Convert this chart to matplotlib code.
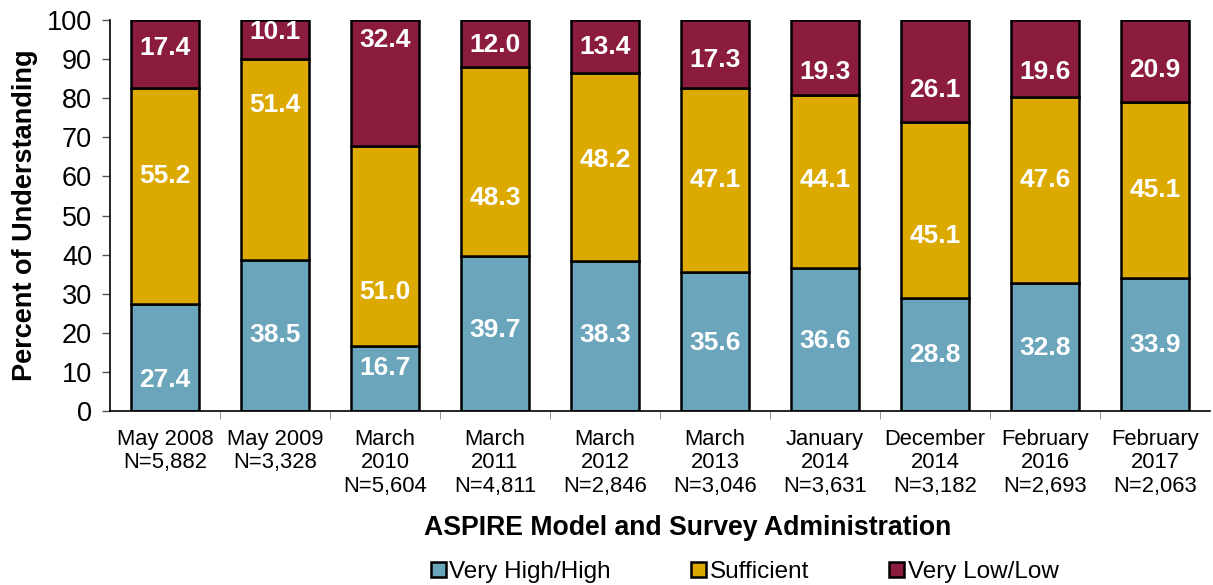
import matplotlib.pyplot as plt
import numpy as np

plt.rcParams['font.family'] = ['Liberation Sans', 'DejaVu Sans']

surveys = ['May 2008\nN=5,882', 'May 2009\nN=3,328', 'March\n2010\nN=5,604',
           'March\n2011\nN=4,811', 'March\n2012\nN=2,846', 'March\n2013\nN=3,046',
           'January\n2014\nN=3,631', 'December\n2014\nN=3,182', 'February\n2016\nN=2,693',
           'February\n2017\nN=2,063']
high = [27.4, 38.5, 16.7, 39.7, 38.3, 35.6, 36.6, 28.8, 32.8, 33.9]
sufficient = [55.2, 51.4, 51.0, 48.3, 48.2, 47.1, 44.1, 45.1, 47.6, 45.1]
low = [17.4, 10.1, 32.4, 12.0, 13.4, 17.3, 19.3, 26.1, 19.6, 20.9]

# where each value label sits inside its segment
high_label_y = [7.9, 19.4, 11.0, 20.7, 19.4, 17.4, 17.9, 14.3, 16.1, 16.9]
suff_label_y = [60.1, 78.3, 30.4, 54.5, 64.2, 59.1, 59.1, 44.8, 59.1, 56.5]
low_label_y = [92.8, 96.9, 94.9, 93.6, 93.1, 89.8, 86.7, 82.1, 86.7, 87.2]

colors = ['#6aa5bb', '#dca900', '#8c1c3e']
names = ['Very High/High', 'Sufficient', 'Very Low/Low']

fig = plt.figure(figsize=(12.13, 5.85), dpi=100)
ax = fig.add_axes([0.0907, 0.2974, 0.9068, 0.6684])

x = np.arange(len(surveys))
bottom = np.zeros(len(surveys))
for vals, col, name, ly in zip([high, sufficient, low], colors, names,
                               [high_label_y, suff_label_y, low_label_y]):
    ax.bar(x, vals, 0.62, bottom=bottom, color=col, edgecolor='black',
           linewidth=1.8, label=name, zorder=2)
    for xi, v, yy in zip(x, vals, ly):
        ax.text(xi, yy, f'{v:.1f}', ha='center', va='center', color='white',
                fontsize=19, fontweight='bold', zorder=3)
    bottom += np.array(vals)

ax.set_xlim(-0.5, len(surveys) - 0.5)
ax.set_ylim(0, 100)
ax.set_yticks(range(0, 101, 10))
ax.tick_params(axis='y', labelsize=19.5, length=6, width=1, color='#555555', pad=7)
ax.set_xticks(x)
ax.set_xticklabels(surveys, fontsize=15.8, linespacing=1.15)
ax.tick_params(axis='x', which='major', length=0, pad=13)
ax.set_xticks(np.arange(0.5, len(surveys) - 0.5, 1), minor=True)
ax.tick_params(axis='x', which='minor', length=6, color='#888888')

for s in ['top', 'right']:
    ax.spines[s].set_visible(False)
ax.spines['left'].set_linewidth(1.2)
ax.spines['bottom'].set_linewidth(1.2)

ax.set_ylabel('Percent of Understanding', fontsize=19.5, fontweight='bold', labelpad=6)
fig.text(0.567, 0.0975, 'ASPIRE Model and Survey Administration', ha='center',
         va='center', fontsize=19.2, fontweight='bold')

handles, labels = ax.get_legend_handles_labels()
fig.legend(handles, labels, loc='center', bbox_to_anchor=(0.614, 0.022), ncol=3,
           frameon=False, fontsize=17.5, handlelength=0.62, handleheight=0.62,
           handletextpad=0.15, columnspacing=3.3)

fig.savefig('out.png', dpi=100)
